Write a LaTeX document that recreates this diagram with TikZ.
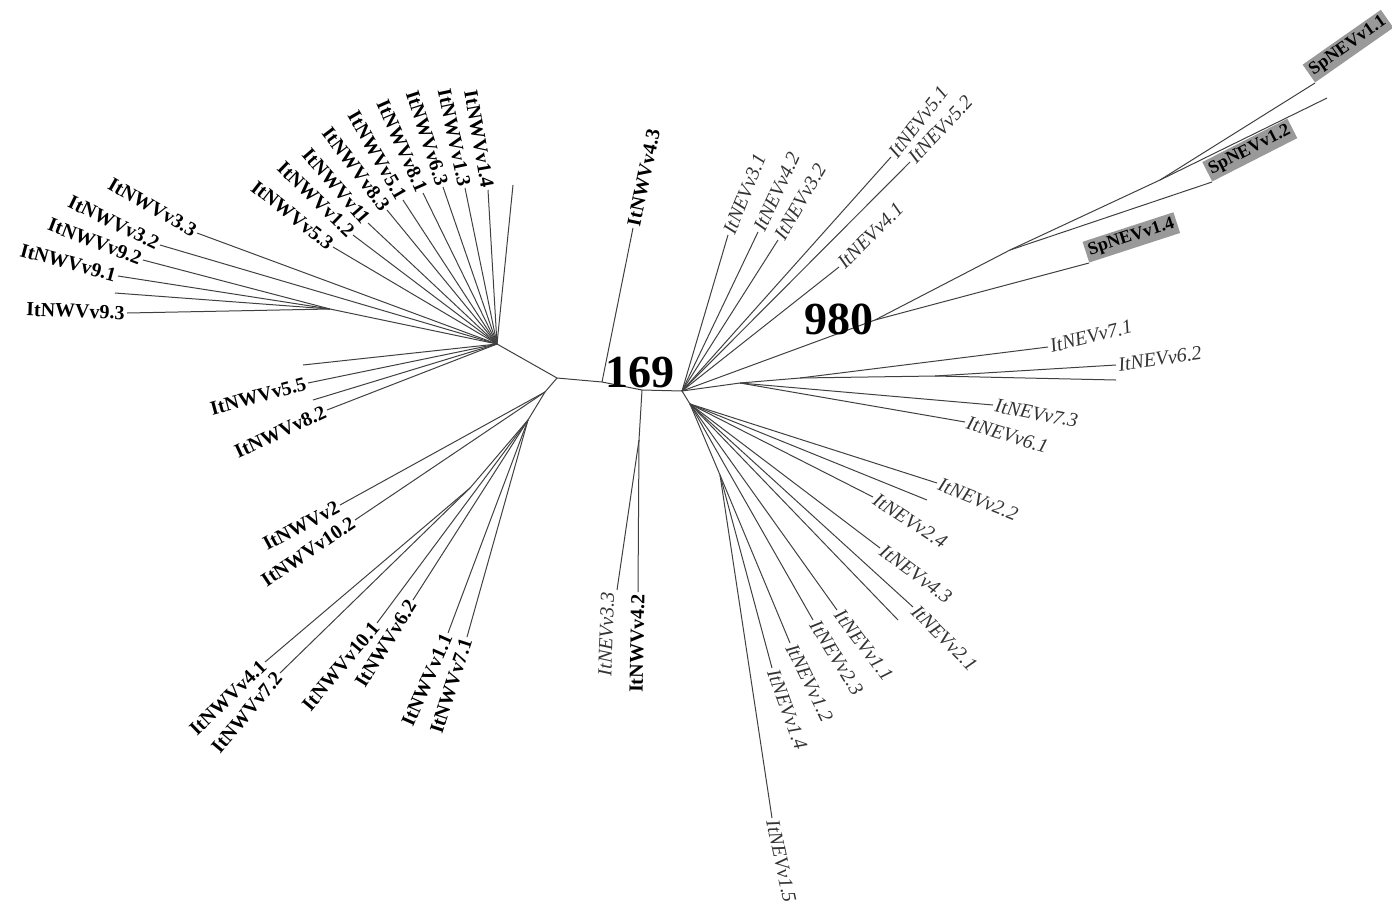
\documentclass[tikz,border=0pt]{standalone}
\usepackage{fontspec}
\setmainfont{Liberation Serif}
\usetikzlibrary{positioning}

\begin{document}
\begin{tikzpicture}[
  x=0.5pt, y=-0.5pt,
  branch/.style={draw=black!75, line width=0.5pt},
  nwv/.style={font=\fontsize{10}{10}\selectfont\bfseries, inner sep=1pt},
  nev/.style={font=\fontsize{10}{10}\selectfont\itshape, text=black!80, inner sep=1pt},
  spnev/.style={font=\fontsize{9}{9}\selectfont\bfseries, fill=black!40, inner sep=1.5pt},
  boot/.style={font=\fontsize{23}{23}\selectfont\bfseries, inner sep=0pt}
]
\useasboundingbox (0,0) rectangle (1392,922);

% inner nodes of the tree
\coordinate (hubW) at (497,344);
\coordinate (c9) at (330,309);
\coordinate (n1) at (557,378);
\coordinate (n169a) at (602,382);
\coordinate (n169b) at (642,390);
\coordinate (n33) at (639,440);
\coordinate (hubE) at (682,391);
\coordinate (lowA) at (545,392);
\coordinate (lowB) at (528,420);
\coordinate (lowC) at (470,488);
\coordinate (e980) at (875,320);
\coordinate (spA) at (1010,250);
\coordinate (spB) at (1160,180);
\coordinate (m1) at (740,383);
\coordinate (m2) at (800,378);
\coordinate (m3) at (935,376);
\coordinate (r1) at (690,404);
\coordinate (r2) at (720,475);

\draw[branch] (c9) -- (hubW) -- (n1) -- (n169a) -- (n169b) -- (hubE);
\draw[branch] (n1) -- (lowA) -- (lowB) -- (lowC);
\draw[branch] (n169b) -- (n33);
\draw[branch] (hubE) -- (e980) -- (spA) -- (spB);
\draw[branch] (hubE) -- (m1) -- (m2) -- (m3);
\draw[branch] (hubE) -- (r1) -- (r2);

% branches without a label
\foreach \nm/\px/\py/\pnt in {wX1/115/293/c9, wX2/513/185/hubW, wX3/303/365/hubW,
    wX4/313/400/hubW, spX/1327/98/spB, eX/1116/380/m3, eY/927/500/r1, eZ/898/620/r1}{
  \coordinate (\nm) at (\px,\py);
  \draw[branch] (\pnt) -- (\nm);
}

% ItNWV leaves, label to the left
\foreach \nm/\px/\py/\pnt/\rot/\lbl in {
    w33/197/233/hubW/-30/ItNWVv3.3, w32/160/245/hubW/-26/ItNWVv3.2,
    w92/143/260/c9/-21/ItNWVv9.2, w91/118/276/c9/-15/ItNWVv9.1,
    w93/127/313/c9/-2/ItNWVv9.3,
    w14/488/190/hubW/-80/ItNWVv1.4, w13/465/188/hubW/-78/ItNWVv1.3,
    w63/443/187/hubW/-72/ItNWVv6.3, w81/423/193/hubW/-66/ItNWVv8.1,
    w51/403/200/hubW/-60/ItNWVv5.1, w83/387/210/hubW/-53/ItNWVv8.3,
    wv11/368/223/hubW/-49/ItNWVv11, w12/353/235/hubW/-44/ItNWVv1.2,
    w53/333/247/hubW/-38/ItNWVv5.3,
    w55/308/383/hubW/15/ItNWVv5.5, w82/327/410/hubW/25/ItNWVv8.2,
    w2/340/505/lowA/28/ItNWVv2, w102/355/520/lowA/34/ItNWVv10.2,
    w101/377/623/lowB/50/ItNWVv10.1, w62/413/600/lowB/58/ItNWVv6.2,
    w11/448/633/lowB/66/ItNWVv1.1, w71/467/637/lowB/72/ItNWVv7.1,
    w41/265/662/lowC/44/ItNWVv4.1, w72/280/673/lowC/50/ItNWVv7.2,
    w42/638/592/n33/89/ItNWVv4.2}{
  \coordinate (\nm) at (\px,\py);
  \draw[branch] (\pnt) -- (\nm);
  \node[nwv, anchor=east, rotate=\rot] (t\nm) at (\nm) {\lbl};
}

% ItNWVv4.3, label to the right
\coordinate (w43) at (633,228);
\draw[branch] (n169a) -- (w43);
\node[nwv, anchor=west, rotate=78] (tw43) at (w43) {ItNWVv4.3};

% ItNEVv3.3
\coordinate (e33) at (617,590);
\draw[branch] (n33) -- (e33);
\node[nev, anchor=south east, rotate=88] (te33) at (e33) {ItNEVv3.3};

% ItNEV leaves, label to the right
\foreach \nm/\px/\py/\pnt/\rot/\lbl in {
    e31/728/235/hubE/68/ItNEVv3.1, e42/758/232/hubE/65/ItNEVv4.2,
    e32/778/240/hubE/60/ItNEVv3.2, e41/839/267/hubE/45/ItNEVv4.1,
    e51/891/157/hubE/52/ItNEVv5.1, e52/910/162/hubE/47/ItNEVv5.2,
    e71/1048/347/m2/14/ItNEVv7.1, e62/1116/365/m3/8/ItNEVv6.2,
    e73/993/405/m1/-11/ItNEVv7.3, e61/965/422/m1/-17/ItNEVv6.1,
    e22/937/483/r1/-22/ItNEVv2.2, e24/873/497/r1/-33/ItNEVv2.4,
    e43/880/548/r1/-36/ItNEVv4.3, e21/913/607/r1/-45/ItNEVv2.1,
    e11/837/610/r1/-53/ItNEVv1.1, e23/813/620/r1/-58/ItNEVv2.3,
    e12/790/643/r2/-64/ItNEVv1.2, e14/772/668/r2/-70/ItNEVv1.4,
    e15/772/818/r2/-78/ItNEVv1.5}{
  \coordinate (\nm) at (\px,\py);
  \draw[branch] (\pnt) -- (\nm);
  \node[nev, anchor=west, rotate=\rot] (t\nm) at (\nm) {\lbl};
}

% SpNEV leaves
\foreach \nm/\px/\py/\pnt/\rot/\lbl in {
    sp14/1089/263/e980/18/SpNEVv1.4, sp12/1212/182/spA/27/SpNEVv1.2,
    sp11/1315/83/spB/35/SpNEVv1.1}{
  \coordinate (\nm) at (\px,\py);
  \draw[branch] (\pnt) -- (\nm);
  \node[spnev, anchor=south west, rotate=\rot] (t\nm) at (\nm) {\lbl};
}

% bootstrap values
\node[boot] (b169) at (640,372) {169};
\node[boot] (b980) at (839,319) {980};
\end{tikzpicture}
\end{document}
